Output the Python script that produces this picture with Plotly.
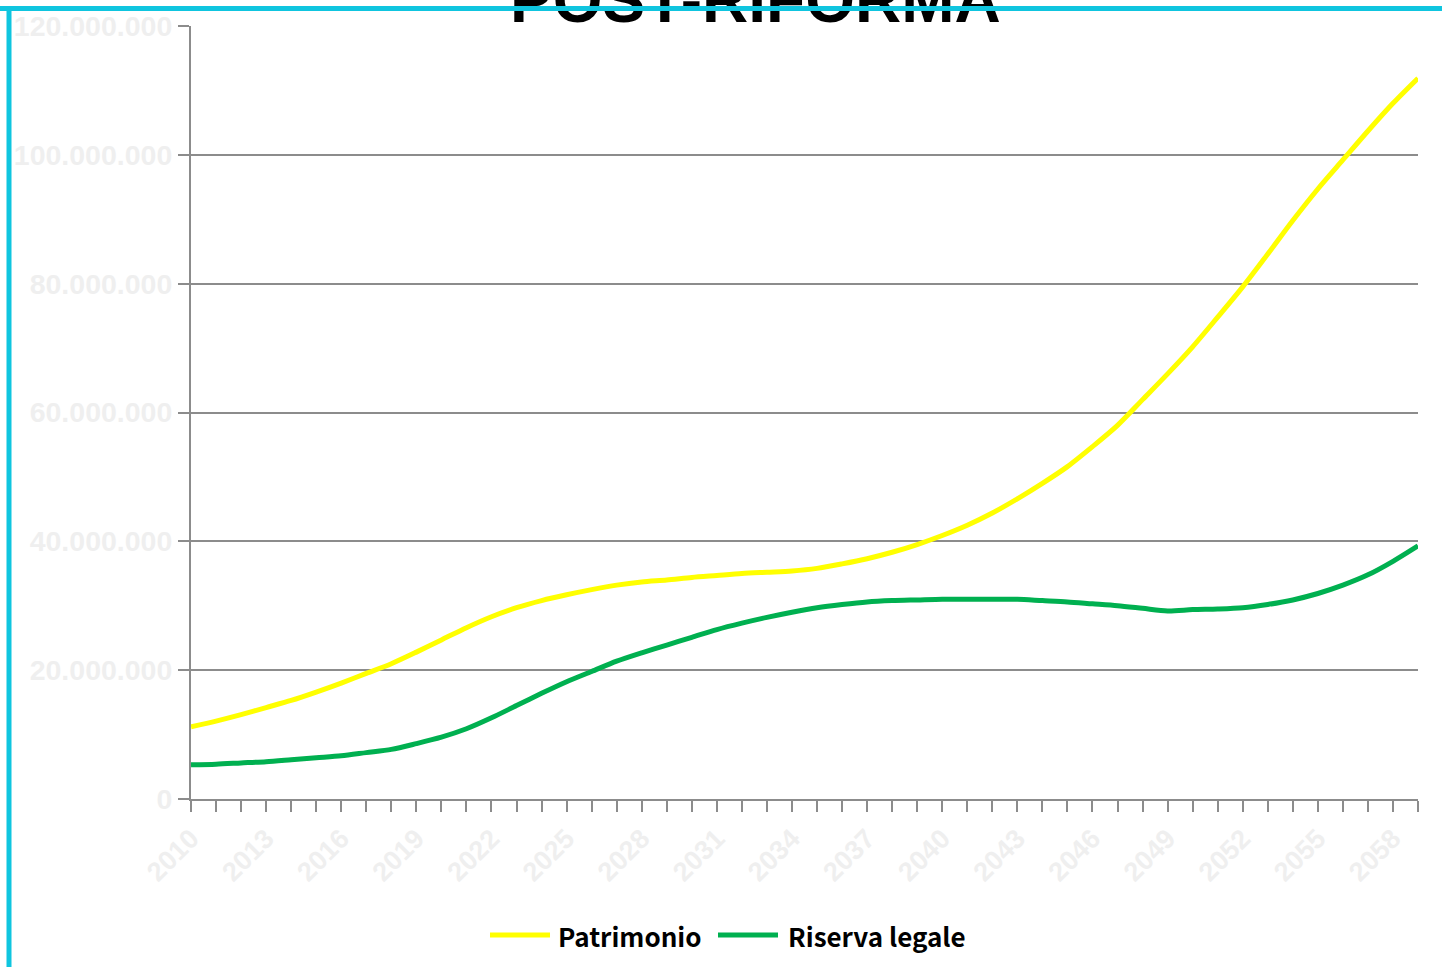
import plotly.graph_objects as go

# Years of the projection
years = list(range(2010, 2060))

# Patrimonio (millions of euro)
patrimonio_mln = [
    11.2, 12.1, 13.1, 14.2, 15.3, 16.6, 18.0, 19.5, 21.0, 22.8,
    24.7, 26.6, 28.3, 29.7, 30.8, 31.7, 32.5, 33.2, 33.7, 34.0,
    34.4, 34.7, 35.0, 35.2, 35.4, 35.8, 36.5, 37.3, 38.3, 39.5,
    40.9, 42.5, 44.4, 46.6, 49.0, 51.6, 54.7, 58.0, 62.0, 66.0,
    70.2, 74.8, 79.5, 84.6, 89.8, 94.7, 99.2, 103.7, 108.0, 111.9,
]

# Riserva legale (millions of euro)
riserva_mln = [
    5.3, 5.4, 5.6, 5.8, 6.1, 6.4, 6.7, 7.2, 7.7, 8.6,
    9.6, 10.9, 12.6, 14.5, 16.4, 18.2, 19.8, 21.4, 22.7, 23.9,
    25.1, 26.3, 27.3, 28.2, 29.0, 29.7, 30.2, 30.6, 30.8, 30.9,
    31.0, 31.0, 31.0, 31.0, 30.8, 30.6, 30.3, 30.0, 29.6, 29.2,
    29.4, 29.5, 29.7, 30.2, 30.9, 31.9, 33.2, 34.8, 36.9, 39.3,
]

series_names = ["Patrimonio", "Riserva legale"]
series_colors = ["#FFFF00", "#00B050"]

patrimonio = [v * 1e6 for v in patrimonio_mln]
riserva = [v * 1e6 for v in riserva_mln]

W, H = 1442, 967
L, R, T, B = 191, 24, 26, 168
PW, PH = W - L - R, H - T - B


def px(x):
    return (x - L) / PW


def py(y):
    return (H - B - y) / PH


GRID = "#8c8c8c"
LABEL = "#efefef"
CYAN = "#0fc5df"

fig = go.Figure()
for name, vals, col in zip(series_names, [patrimonio, riserva], series_colors):
    fig.add_trace(go.Scatter(
        x=years, y=vals, name=name, mode="lines",
        line=dict(color=col, width=5, shape="spline", smoothing=0.8),
        showlegend=False,
    ))

fig.update_layout(
    width=W, height=H,
    margin=dict(l=L, r=R, t=T, b=B, pad=0, autoexpand=False),
    paper_bgcolor="white", plot_bgcolor="white",
    separators=",.",
    font=dict(family="Liberation Sans, Arial", color="black"),
)

fig.update_xaxes(
    range=[2010, 2059], tick0=2010, dtick=3, automargin=False,
    showgrid=False, zeroline=False,
    showline=True, linecolor=GRID, linewidth=2,
    ticks="outside", ticklen=11, tickwidth=2, tickcolor=GRID,
    minor=dict(dtick=1, tick0=2010, ticks="outside", ticklen=11,
               tickwidth=2, tickcolor=GRID, showgrid=False),
    tickangle=-45,
    tickfont=dict(family="Liberation Sans, Arial", size=27, color=LABEL,
                  weight="bold"),
)

fig.update_yaxes(
    range=[0, 120e6], tick0=0, dtick=20e6, tickformat=",d", automargin=False,
    showgrid=True, gridcolor=GRID, gridwidth=2, zeroline=False,
    showline=True, linecolor=GRID, linewidth=2,
    ticks="outside", ticklen=11, tickwidth=2, tickcolor=GRID,
    tickfont=dict(family="Liberation Sans, Arial", size=28.5, color=LABEL,
                  weight="bold"),
)

annotations = [
    # chart title
    dict(text="POST-RIFORMA", xref="paper", yref="paper",
         x=px(755), y=py(38), xanchor="center", yanchor="bottom",
         showarrow=False,
         font=dict(family="Liberation Sans, Arial", size=64, color="black",
                   weight="bold")),
    # frame top edge, drawn over the title
    dict(text=" ", xref="paper", yref="paper", x=px(0), y=py(6),
         xanchor="left", yanchor="top", width=W + 20, height=5,
         bgcolor=CYAN, borderpad=0, borderwidth=0, showarrow=False,
         font=dict(size=1)),
]

shapes = [
    # frame left edge
    dict(type="line", xref="paper", yref="paper",
         x0=px(9), x1=px(9), y0=py(6), y1=py(H + 10),
         line=dict(color=CYAN, width=5), layer="above"),
]

# legend row
legend_y = py(935)
legend_items = [(490, 550, 556), (718, 778, 786)]
for (x0, x1, tx), name, col in zip(legend_items, series_names, series_colors):
    shapes.append(dict(type="line", xref="paper", yref="paper",
                       x0=px(x0), x1=px(x1), y0=legend_y, y1=legend_y,
                       line=dict(color=col, width=5), layer="above"))
    annotations.append(dict(text=name, xref="paper", yref="paper",
                            x=px(tx), y=legend_y, xanchor="left",
                            yanchor="middle", showarrow=False,
                            font=dict(family="Noto Sans CJK JP", size=26,
                                      color="black", weight="bold")))

fig.update_layout(annotations=annotations, shapes=shapes)

fig.write_html("out.html")
